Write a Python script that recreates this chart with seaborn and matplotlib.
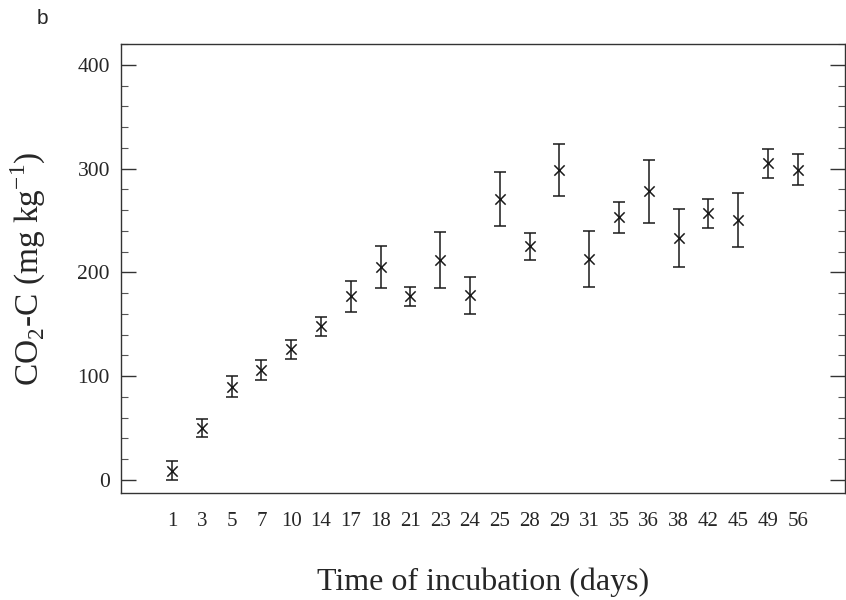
import matplotlib
matplotlib.use("Agg")
import matplotlib.pyplot as plt
import seaborn as sns
import pandas as pd
from matplotlib.ticker import MultipleLocator

# Incubation days and cumulative CO2-C (mean and error)
days = ["1", "3", "5", "7", "10", "14", "17", "18", "21", "23", "24",
        "25", "28", "29", "31", "35", "36", "38", "42", "45", "49", "56"]
co2_c = [9, 50, 90, 106, 126, 148, 177, 205, 177, 212, 178,
         271, 225, 299, 213, 253, 278, 233, 257, 250, 305, 299]
co2_err = [9, 9, 10, 10, 9, 9, 15, 20, 9, 27, 18,
           26, 13, 25, 27, 15, 30, 28, 14, 26, 14, 15]

df = pd.DataFrame({"day": days, "co2": co2_c, "err": co2_err})

sns.set_theme(style="white")
plt.rcParams["font.family"] = ["Liberation Serif", "DejaVu Serif"]
plt.rcParams["mathtext.fontset"] = "custom"
plt.rcParams["mathtext.rm"] = "Liberation Serif"

fig = plt.figure(figsize=(8.46, 6.0), dpi=100)
ax = fig.add_axes([121 / 846, 1 - 493 / 600, (845 - 121) / 846, (493 - 44) / 600])

ink = "#1a1a1a"
ax.errorbar(df["day"], df["co2"], yerr=df["err"], fmt="none",
            ecolor=ink, elinewidth=1.1, capsize=4, capthick=1.1, zorder=2)
sns.scatterplot(data=df, x="day", y="co2", marker="x", s=55,
                color=ink, linewidth=1.1, ax=ax, zorder=3)

ax.set_xlim(-1.71, 22.58)
ax.set_ylim(-12.5, 420)
ax.yaxis.set_major_locator(MultipleLocator(100))
ax.yaxis.set_minor_locator(MultipleLocator(20))
ax.tick_params(axis="y", which="major", direction="in", length=11, width=1,
               left=True, right=True, color="#333333", labelsize=15.5, pad=8)
ax.tick_params(axis="y", which="minor", direction="in", length=5, width=0.8,
               left=True, right=True, color="#555555")
ax.tick_params(axis="x", which="both", bottom=False, top=False,
               labelsize=15, pad=8)

for sp in ax.spines.values():
    sp.set_color("#333333")
    sp.set_linewidth(1.0)

ax.set_xlabel("Time of incubation (days)", fontsize=23, labelpad=26)
ax.set_ylabel(r"CO$_2$-C (mg kg$^{-1}$)", fontsize=24, labelpad=21)

fig.text(42 / 846, 1 - 18 / 600, "b", fontsize=15, family="Liberation Sans",
         ha="center", va="center")

fig.savefig("out.png", dpi=100)
